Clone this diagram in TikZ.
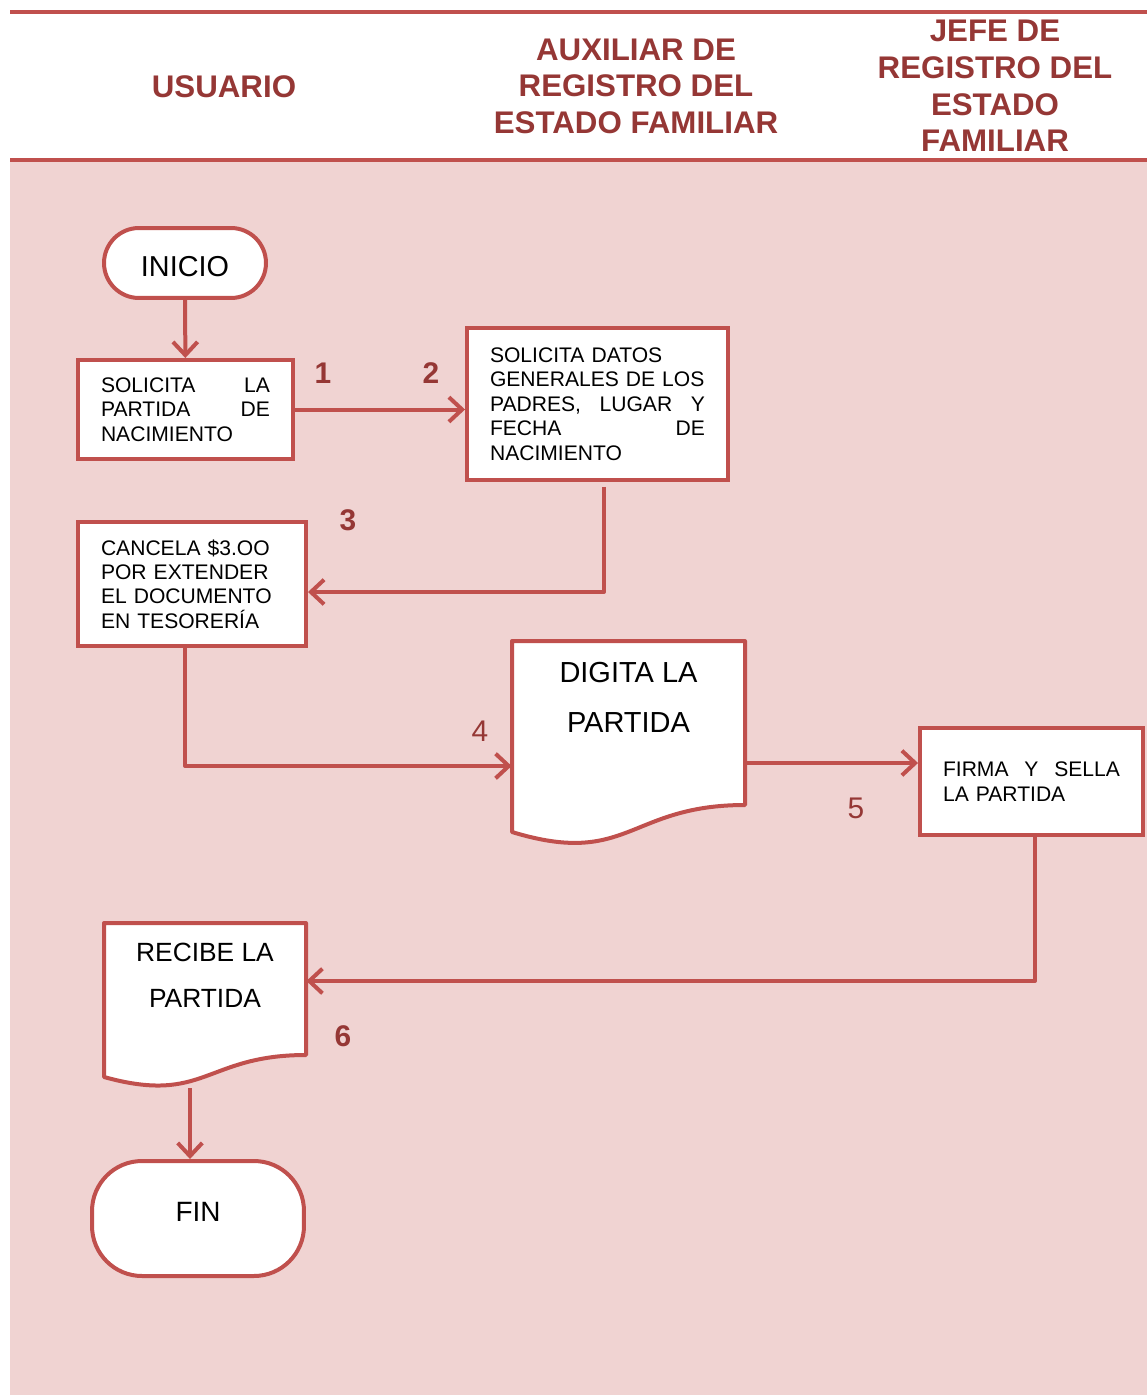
\documentclass[tikz,border=0pt]{standalone}
\usepackage{fontspec}
\setmainfont{Liberation Sans}
\usetikzlibrary{arrows.meta}
\definecolor{linered}{HTML}{C0504D}
\definecolor{headred}{HTML}{953735}
\definecolor{lanepink}{HTML}{F0D3D2}

\begin{document}
\begin{tikzpicture}[x=0.02cm, y=-0.02cm,
    procbox/.style={draw=linered, line width=0.08cm, fill=white, align=left,
      inner xsep=0.46cm, inner ysep=0pt, font=\fontsize{12}{13.9}\selectfont},
    termbox/.style={draw=linered, line width=0.08cm, fill=white},
    doctext/.style={inner sep=0pt, align=center},
    docshape/.style={draw=linered, line width=0.08cm, fill=white, line join=round},
    flow/.style={draw=linered, line width=0.08cm, line join=round,
      -{Straight Barb[length=7.5pt, width=14pt]}},
    lane/.style={font=\bfseries\fontsize{17.8}{20.8}\selectfont, text=headred, align=center},
    stepno/.style={font=\fontsize{17}{20}\selectfont, text=headred}]
    \useasboundingbox (0,0) rectangle (1147,1395);
    \fill[lanepink] (10,162) rectangle (1147,1395);
    \draw[linered, line width=0.07cm] (10,12) -- (1147,12);
    \draw[linered, line width=0.07cm] (10,160) -- (1147,160);

    \node[lane] (usuario) at (224,87) {USUARIO};
    \node[lane] (auxiliar) at (636,86) {AUXILIAR DE\\REGISTRO DEL\\ESTADO FAMILIAR};
    \node[lane] (jefe) at (995,86) {JEFE DE\\REGISTRO DEL\\ESTADO\\FAMILIAR};

    \draw[docshape] (512,641) -- (745,641) -- (745,805)
      .. controls (628.5,805) and (628.5,867.5) .. (512,832) -- cycle;
    \draw[docshape] (104,923) -- (306,923) -- (306,1055)
      .. controls (205,1055) and (205,1105) .. (104,1077) -- cycle;

    \node[termbox, minimum width=3.24cm, minimum height=1.4cm, rounded corners=0.7cm,
      text height=0.54cm, font=\fontsize{16.4}{19}\selectfont] (inicio) at (185,263) {INICIO};
    \node[procbox, minimum width=4.3cm, minimum height=1.98cm, text width=3.38cm]
      (solicita) at (185.5,409.5) {SOLICITA \hfill LA\\PARTIDA \hfill DE\\NACIMIENTO};
    \node[procbox, minimum width=5.22cm, minimum height=3.04cm, text width=4.3cm]
      (datos) at (597.5,404) {SOLICITA DATOS\\GENERALES DE LOS\\PADRES, \hfill LUGAR \hfill Y\\FECHA \hfill DE\\NACIMIENTO};
    \node[procbox, minimum width=4.56cm, minimum height=2.48cm, text width=3.64cm]
      (cancela) at (192,584) {CANCELA \$3.OO\\POR EXTENDER\\EL DOCUMENTO\\EN TESORERÍA};
    \node[doctext, minimum width=4.66cm, font=\fontsize{16.5}{28.5}\selectfont]
      (digita) at (628.5,697) {DIGITA LA\\PARTIDA};
    \node[procbox, minimum width=4.46cm, minimum height=2.14cm, text width=3.54cm]
      (firma) at (1031.5,781.5) {FIRMA \hfill Y \hfill SELLA\\LA PARTIDA};
    \node[doctext, minimum width=4.04cm, font=\fontsize{15}{26.2}\selectfont]
      (recibe) at (205,975) {RECIBE LA\\PARTIDA};
    \node[termbox, minimum width=4.24cm, minimum height=2.3cm, rounded corners=1cm,
      text depth=0.28cm, font=\fontsize{15.9}{19}\selectfont] (fin) at (198,1218.5) {FIN};

    \node[stepno, font=\bfseries\fontsize{17}{20}\selectfont] (n1) at (323,373) {1};
    \node[stepno, font=\bfseries\fontsize{17}{20}\selectfont] (n2) at (431,373) {2};
    \node[stepno, font=\bfseries\fontsize{17}{20}\selectfont] (n3) at (348,520) {3};
    \node[stepno] (n4) at (480,731) {4};
    \node[stepno] (n5) at (856,808) {5};
    \node[stepno, font=\bfseries\fontsize{17}{20}\selectfont] (n6) at (343,1036) {6};

    \coordinate (c3) at (604,592);
    \coordinate (c4) at (185,766);
    \coordinate (c5) at (745,763);
    \coordinate (c6) at (1035,981);
    \coordinate (c7) at (190,1088);

    \draw[flow] (inicio) -- (solicita);
    \draw[flow] (solicita.east) -- (solicita.east -| datos.west);
    \draw[flow] ([yshift=-0.1cm]datos.south -| c3) -- (c3) -- (c3 -| cancela.east);
    \draw[flow] (cancela.south -| c4) -- (c4) -- (c4 -| digita.west);
    \draw[flow] (c5) -- (c5 -| firma.west);
    \draw[flow] (firma.south -| c6) -- (c6) -- (c6 -| recibe.east);
    \draw[flow] (c7) -- (c7 |- fin.north);
  \end{tikzpicture}
\end{document}
